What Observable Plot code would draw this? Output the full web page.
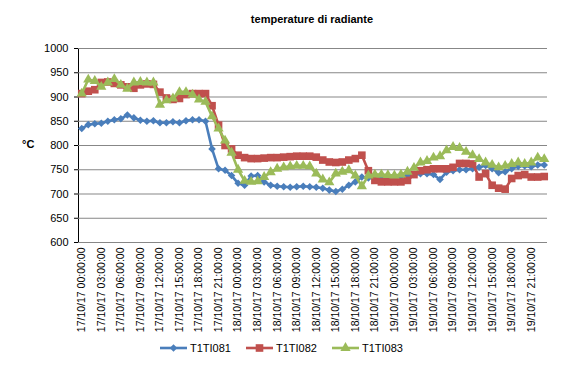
<!DOCTYPE html>
<html><head><meta charset="utf-8">
<script src="https://cdn.jsdelivr.net/npm/d3@7"></script>
<script src="https://cdn.jsdelivr.net/npm/@observablehq/plot@0.6"></script>
<style>
body{margin:0;background:#fff;font-family:"Liberation Sans",Arial,sans-serif;color:#000;}
#wrap{position:relative;width:563px;height:373px;overflow:hidden;background:#fff;}
#chart{position:absolute;left:0;top:0;}
#title{position:absolute;left:312px;top:13px;transform:translateX(-50%);font-weight:bold;font-size:11px;white-space:nowrap;}
#ylab{position:absolute;left:22px;top:138px;font-weight:bold;font-size:11px;}
#legend{position:absolute;left:160px;top:342px;display:flex;gap:15px;font-size:11px;align-items:center;}
#legend .it{display:flex;align-items:center;gap:3px;}
g[aria-label^="y-axis"] text{font-size:11px;}
g[aria-label^="x-axis"] text{font-size:10.5px;}
</style>
</head><body>
<div id="wrap">
  <div id="chart"></div>
  <div id="title">temperature di radiante</div>
  <div id="ylab">°C</div>
  <div id="legend"></div>
</div>
<script>
const days = ["17/10/17", "18/10/17", "19/10/17"];
const hours = ["00","01","02","03","04","05","06","07","08","09","10","11","12","13","14","15","16","17","18","19","20","21","22","23"];
const categories = days.flatMap(d => hours.map(h => `${d} ${h}:00:00`));
const tickLabels = categories.filter((d, i) => i % 3 === 0);
const yTicks = [600, 650, 700, 750, 800, 850, 900, 950, 1000];
const seriesNames = ["T1TI081", "T1TI082", "T1TI083"];
const colors = ["#4A7EBB", "#C0504D", "#9BBB59"];

const t1ti081 = [835,843,845,846,850,853,855,863,857,852,850,851,847,847,849,847,851,853,853,850,793,752,749,738,722,718,737,738,725,718,
  716,715,714,715,716,715,714,712,708,705,710,718,725,735,733,735,735,734,735,736,738,740,742,742,740,730,745,748,750,750,
  752,755,759,752,744,746,752,757,758,756,760,760];
const t1ti082 = [907,912,915,930,931,928,925,921,918,925,927,926,910,898,895,897,905,907,907,907,882,842,800,793,780,775,773,773,774,775,
  775,776,777,778,778,778,776,770,766,765,766,770,773,780,748,728,725,725,725,725,728,740,748,750,752,752,752,755,763,763,
  762,735,742,718,712,710,732,738,740,735,735,736];
const t1ti083 = [907,936,933,921,930,937,925,917,930,931,930,930,884,893,897,910,910,905,895,890,860,835,810,785,750,727,725,726,735,745,
  752,755,757,758,758,757,742,730,724,742,746,749,738,716,738,740,740,739,738,740,746,754,765,768,775,778,790,797,795,787,
  780,772,765,760,755,758,762,765,762,765,775,772];

const values = [t1ti081, t1ti082, t1ti083];
const symbols = ["diamond2", "square", "triangle"];
const radii = [3.4, 4.3, 3.8];
const tables = values.map(v => categories.map((c, i) => ({t: c, v: v[i]})));

const marks = [Plot.ruleY(yTicks, {stroke: "#878787", strokeWidth: 1})];
tables.forEach((tb, k) => {
  marks.push(Plot.line(tb, {x: "t", y: "v", stroke: colors[k], strokeWidth: 2.6}));
  marks.push(Plot.dot(tb, {x: "t", y: "v", fill: colors[k], stroke: "none", symbol: () => symbols[k], r: radii[k]}));
});

const chart = Plot.plot({
  width: 563, height: 373,
  marginLeft: 78, marginRight: 16, marginTop: 48, marginBottom: 131,
  style: {fontFamily: "'Liberation Sans', Arial, sans-serif", fontSize: "10px", background: "transparent", color: "#000"},
  x: {type: "point", domain: categories, padding: 0.5, ticks: tickLabels, tickRotate: -90, tickSize: 0, tickPadding: 5, label: null},
  y: {domain: [600, 1000], ticks: yTicks, tickFormat: d => String(d), tickSize: 4, tickPadding: 6, label: null, line: true},
  marks
});
document.getElementById("chart").appendChild(chart);

// legend
const leg = document.getElementById("legend");
seriesNames.forEach((name, k) => {
  const it = document.createElement("div");
  it.className = "it";
  const w = 27, h = 12;
  const sym = d3.symbol().type([d3.symbolDiamond2, d3.symbolSquare, d3.symbolTriangle][k]).size(Math.PI * radii[k] * radii[k])();
  it.innerHTML = `<svg width="${w}" height="${h}"><line x1="0" x2="${w}" y1="${h/2}" y2="${h/2}" stroke="${colors[k]}" stroke-width="2.6"/><path d="${sym}" transform="translate(${w/2},${h/2})" fill="${colors[k]}"/></svg><span>${name}</span>`;
  leg.appendChild(it);
});
</script>
</body></html>
